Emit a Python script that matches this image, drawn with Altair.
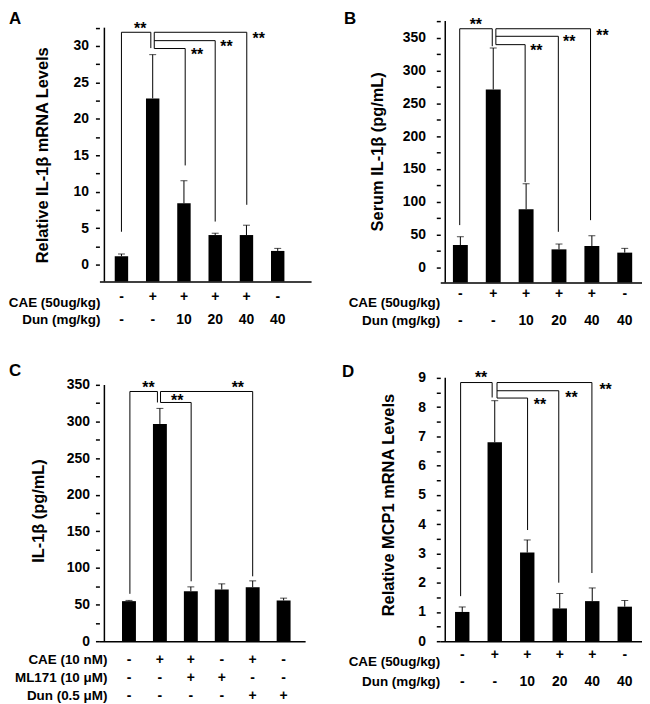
import json
import altair as alt
import pandas as pd

FONT = "Liberation Sans"
POSITIONS = [1, 2, 3, 4, 5, 6]

# ---------------- Panel A ----------------
A_values = [1.15, 22.8, 8.4, 4.05, 4.05, 1.87]
A_errors = [0.30, 6.0, 3.1, 0.25, 1.35, 0.35]
A_ytitle = "Relative IL-1β mRNA Levels"
A_row_titles = ["CAE (50ug/kg)", "Dun (mg/kg)"]
A_rows = [["-", "+", "+", "+", "+", "-"], ["-", "-", "10", "20", "40", "40"]]
A_ticks = [0, 2.5, 5, 7.5, 10, 12.5, 15, 17.5, 20, 22.5, 25, 27.5, 30, 32.5]
A_tick_labels = [0, 5, 10, 15, 20, 25, 30]
A_pair = [1.0, 1.94, 31.87, 4.5, 29.7]          # x left, x right, top, left end, right end
A_fan_start = 2.05
A_fan = [[3.04, 29.64, 13.6], [4.0, 30.72, 5.9], [5.01, 31.87, 8.2]]  # x, level, end
A_star_x = [1.6, 3.42, 4.36, 5.39]
A_star_y = [31.7, 28.1, 29.2, 30.3]

# ---------------- Panel B ----------------
B_values = [34.3, 271.1, 88.8, 27.7, 32.8, 22.7]
B_errors = [12.6, 63.0, 38.7, 8.1, 15.6, 6.5]
B_ytitle = "Serum IL-1β (pg/mL)"
B_row_titles = ["CAE (50ug/kg)", "Dun (mg/kg)"]
B_rows = [["-", "+", "+", "+", "+", "-"], ["-", "-", "10", "20", "40", "40"]]
B_ticks = [0, 25, 50, 75, 100, 125, 150, 175, 200, 225, 250, 275, 300, 325, 350, 375]
B_tick_labels = [0, 50, 100, 150, 200, 250, 300, 350]
B_pair = [0.98, 1.97, 363.4, 64.6, 336.8]
B_fan_start = 2.08
B_fan = [[2.97, 339.2, 130.0], [3.98, 351.9, 54.4], [4.96, 363.4, 72.1]]
B_star_x = [1.47, 3.31, 4.31, 5.32]
B_star_y = [361.0, 321.6, 335.7, 344.3]

# ---------------- Panel C ----------------
C_values = [54.7, 296.7, 68.2, 70.6, 73.7, 55.6]
C_errors = [1.0, 21.2, 6.0, 7.7, 8.7, 3.2]
C_ytitle = "IL-1β (pg/mL)"
C_row_titles = ["CAE (10 nM)", "ML171 (10 μM)", "Dun (0.5 μM)"]
C_rows = [["-", "+", "+", "-", "+", "-"],
          ["-", "-", "+", "+", "-", "-"],
          ["-", "-", "-", "-", "+", "+"]]
C_ticks = [0, 25, 50, 75, 100, 125, 150, 175, 200, 225, 250, 275, 300, 325, 350]
C_tick_labels = [0, 50, 100, 150, 200, 250, 300, 350]
C_pair = [1.03, 1.92, 341.0, 64.7, 326.0]
C_fan_start = 2.02
C_fan = [[3.01, 326.0, 81.8], [5.0, 341.0, 88.6]]
C_star_x = [1.63, 2.56, 4.52]
C_star_y = [339.6, 321.6, 339.6]

# ---------------- Panel D ----------------
D_values = [1.0, 6.8, 3.03, 1.12, 1.37, 1.18]
D_errors = [0.17, 1.42, 0.43, 0.51, 0.45, 0.21]
D_ytitle = "Relative MCP1 mRNA Levels"
D_row_titles = ["CAE (50ug/kg)", "Dun (mg/kg)"]
D_rows = [["-", "+", "+", "+", "+", "-"], ["-", "-", "10", "20", "40", "40"]]
D_ticks = [0, 0.5, 1, 1.5, 2, 2.5, 3, 3.5, 4, 4.5, 5, 5.5, 6, 6.5, 7, 7.5, 8, 8.5, 9]
D_tick_labels = [0, 1, 2, 3, 4, 5, 6, 7, 8, 9]
D_pair = [0.95, 1.92, 8.84, 1.54, 8.33]
D_fan_start = 2.07
D_fan = [[3.01, 8.31, 3.80], [3.97, 8.56, 2.0], [4.99, 8.84, 2.33]]
D_star_x = [1.58, 3.39, 4.36, 5.41]
D_star_y = [8.82, 7.89, 8.14, 8.42]

# ---------------- layout (pixels / styling) ----------------
LAYOUT = {
    "A": dict(width=213, height=262, xdom=[0.4545, 6.909], ydom=[-2.32, 33.4], axis_top=32.5,
              bar=13.5, title_x=-52, title_y=134.5, label_pad=7, row_title_x=1,
              title_base=[288, 305], sym_base=[282, 305], letter="A", letter_x=-91, letter_y=-10),
    "B": dict(width=203, height=263, xdom=[0.540, 6.374], ydom=[-22.7, 375], axis_top=375,
              bar=15, title_x=-58, title_y=131, label_pad=11, row_title_x=0,
              title_base=[288, 306], sym_base=[279, 306], letter="B", letter_x=-97, letter_y=-10),
    "C": dict(width=207, height=265, xdom=[0.205, 6.535], ydom=[0, 359.6], axis_top=350,
              bar=14, title_x=-56.5, title_y=133.5, label_pad=6, row_title_x=8,
              title_base=[288, 306, 324], sym_base=[288, 306, 324], letter="C", letter_x=-91, letter_y=-15),
    "D": dict(width=203, height=265, xdom=[0.477, 6.378], ydom=[0, 9], axis_top=9,
              bar=14.5, title_x=-47, title_y=127.5, label_pad=11, row_title_x=0,
              title_base=[290, 310], sym_base=[283, 310], letter="D", letter_x=-99, letter_y=-14),
}


def build_panel(values, errors, ytitle, row_titles, rows, ticks, tick_labels,
                pair, fan_start, fan, star_x, star_y, lay):
    xs = alt.Scale(domain=lay["xdom"], nice=False, zero=False)
    ys = alt.Scale(domain=lay["ydom"], nice=False, zero=False)
    xaxis = alt.Axis(title=None, labels=False, ticks=False, domain=True,
                     domainColor="black", domainWidth=1.5, grid=False)
    label_expr = ("indexof(" + json.dumps(tick_labels) +
                  ", datum.value) >= 0 ? '' + datum.value : ''")
    yaxis = alt.Axis(title=ytitle, values=ticks, labelExpr=label_expr, domain=False,
                     ticks=True, tickSize=4, tickWidth=1.5, tickColor="black",
                     labelPadding=lay["label_pad"], labelFont=FONT, labelFontSize=14,
                     labelFontWeight="bold", labelColor="black", labelOverlap=False,
                     titleFont=FONT, titleFontSize=16.5, titleFontWeight="bold",
                     titleColor="black", titleX=lay["title_x"], titleY=lay["title_y"],
                     titleAngle=-90, titleAlign="center", titleBaseline="alphabetic",
                     grid=False)

    def X(f="x"):
        return alt.X(f"{f}:Q", scale=xs, axis=xaxis)

    def Y(f="y"):
        return alt.Y(f"{f}:Q", scale=ys, axis=yaxis)

    bars_df = pd.DataFrame({
        "x": POSITIONS,
        "y": values,
        "base": [lay["ydom"][0]] * len(values),
        "top": [v + e for v, e in zip(values, errors)],
    })
    bars = alt.Chart(bars_df).mark_bar(size=lay["bar"], color="black").encode(
        x=X(), y=Y(), y2=alt.Y2("base:Q"))
    err = alt.Chart(bars_df).mark_rule(color="black", strokeWidth=1).encode(
        x=X(), y=Y(), y2=alt.Y2("top:Q"))
    cap = alt.Chart(bars_df).mark_tick(orient="horizontal", size=7, thickness=1,
                                       color="black").encode(x=X(), y=Y("top"))

    axis_df = pd.DataFrame({"x": [lay["xdom"][0]], "y": [lay["ydom"][0]],
                            "y2": [lay["axis_top"]]})
    axisline = alt.Chart(axis_df).mark_rule(color="black", strokeWidth=1.5).encode(
        x=X(), y=Y(), y2=alt.Y2("y2:Q"))

    xl, xr, top, lend, rend = pair
    segs = [(xl, top, xr, top), (xl, top, xl, lend), (xr, top, xr, rend)]
    levels = []
    for fx, lvl, end in fan:
        segs.append((fan_start, lvl, fx, lvl))
        segs.append((fx, lvl, fx, end))
        levels.append(lvl)
    segs.append((fan_start, max(levels), fan_start, min(levels)))
    seg_df = pd.DataFrame(segs, columns=["x", "y", "x2", "y2"])
    brackets = alt.Chart(seg_df).mark_rule(color="black", strokeWidth=1).encode(
        x=X(), y=Y(), x2=alt.X2("x2:Q"), y2=alt.Y2("y2:Q"))

    star_df = pd.DataFrame({"x": star_x, "y": star_y})
    stars = alt.Chart(star_df).mark_text(text="**", font=FONT, fontSize=16,
                                         fontWeight="bold", align="center",
                                         baseline="alphabetic", color="black").encode(
        x=X(), y=Y())

    layers = [bars, err, cap, axisline, brackets, stars]

    for i, (rt, syms) in enumerate(zip(row_titles, rows)):
        sym_df = pd.DataFrame({"x": POSITIONS, "t": syms})
        layers.append(alt.Chart(sym_df).mark_text(
            font=FONT, fontSize=14, fontWeight="bold", align="center",
            baseline="alphabetic", color="black").encode(
            x=X(), y=alt.value(lay["sym_base"][i]), text="t:N"))
        layers.append(alt.Chart(pd.DataFrame({"t": [rt]})).mark_text(
            font=FONT, fontSize=13.5, fontWeight="bold", align="right",
            baseline="alphabetic", color="black").encode(
            x=alt.value(lay["row_title_x"]), y=alt.value(lay["title_base"][i]),
            text="t:N"))

    layers.append(alt.Chart(pd.DataFrame({"t": [lay["letter"]]})).mark_text(
        font=FONT, fontSize=17, fontWeight="bold", align="left", baseline="top",
        color="black").encode(x=alt.value(lay["letter_x"]), y=alt.value(lay["letter_y"]),
                              text="t:N"))

    return alt.layer(*layers).properties(width=lay["width"], height=lay["height"])


pA = build_panel(A_values, A_errors, A_ytitle, A_row_titles, A_rows, A_ticks, A_tick_labels,
                 A_pair, A_fan_start, A_fan, A_star_x, A_star_y, LAYOUT["A"])
pB = build_panel(B_values, B_errors, B_ytitle, B_row_titles, B_rows, B_ticks, B_tick_labels,
                 B_pair, B_fan_start, B_fan, B_star_x, B_star_y, LAYOUT["B"])
pC = build_panel(C_values, C_errors, C_ytitle, C_row_titles, C_rows, C_ticks, C_tick_labels,
                 C_pair, C_fan_start, C_fan, C_star_x, C_star_y, LAYOUT["C"])
pD = build_panel(D_values, D_errors, D_ytitle, D_row_titles, D_rows, D_ticks, D_tick_labels,
                 D_pair, D_fan_start, D_fan, D_star_x, D_star_y, LAYOUT["D"])

chart = alt.concat(pA, pB, pC, pD, columns=2, spacing={"row": 96, "column": 130},
                   bounds="flush", align="each").properties(
    padding=0, background="white").configure_view(strokeWidth=0)

chart.save("out.html", embed_options={"renderer": "svg", "actions": False})
